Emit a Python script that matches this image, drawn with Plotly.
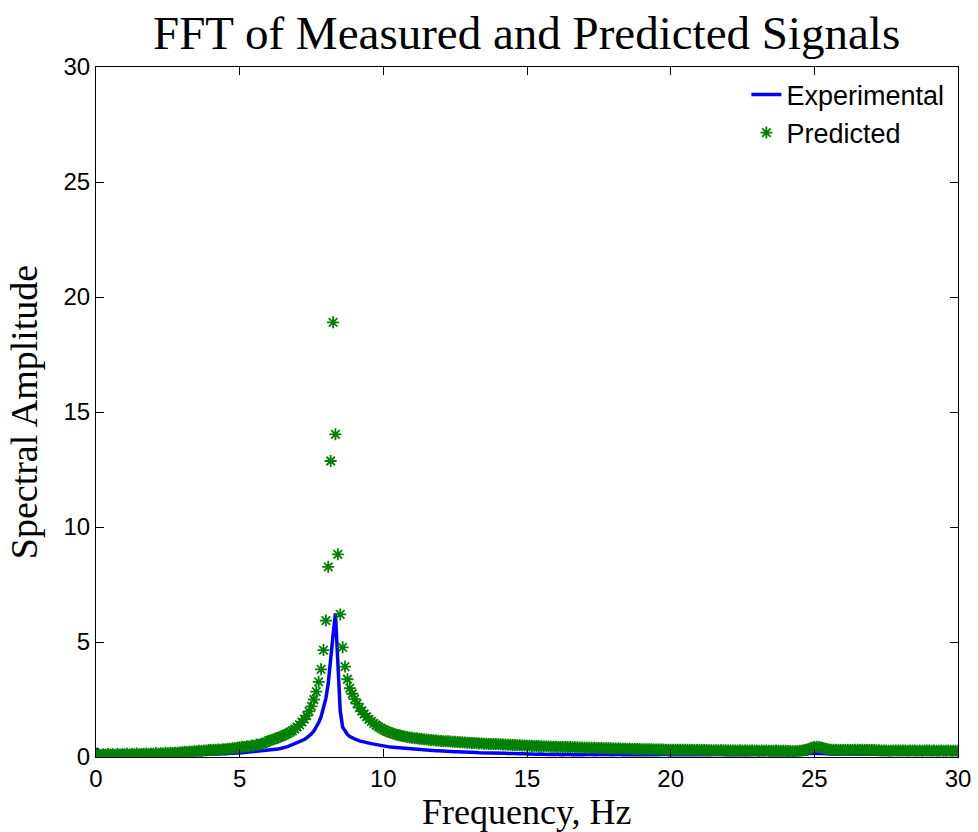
import numpy as np
import plotly.graph_objects as go

# Frequency grid: one sample every 1/12 Hz from 0 to 30 Hz
FREQ_STEP = 1.0 / 12.0

# Predicted spectral amplitude, one row per Hz (12 samples each), final sample at 30 Hz
predicted = [
    0.10, 0.13, 0.09, 0.12, 0.10, 0.13, 0.11, 0.12, 0.10, 0.13, 0.11, 0.12,
    0.12, 0.14, 0.11, 0.13, 0.12, 0.15, 0.12, 0.14, 0.13, 0.15, 0.13, 0.14,
    0.15, 0.17, 0.14, 0.16, 0.15, 0.18, 0.16, 0.18, 0.17, 0.19, 0.18, 0.20,
    0.21, 0.23, 0.22, 0.24, 0.23, 0.25, 0.25, 0.27, 0.26, 0.28, 0.28, 0.30,
    0.30, 0.32, 0.31, 0.33, 0.32, 0.34, 0.34, 0.36, 0.36, 0.38, 0.38, 0.40,
    0.42, 0.45, 0.43, 0.47, 0.46, 0.50, 0.49, 0.54, 0.53, 0.58, 0.58, 0.64,
    0.70, 0.73, 0.76, 0.80, 0.84, 0.88, 0.92, 0.97, 1.02, 1.08, 1.14, 1.21,
    1.30, 1.40, 1.52, 1.65, 1.80, 1.98, 2.20, 2.50, 2.84, 3.27, 3.81, 4.65,
    5.93, 8.27, 12.87, 18.90, 14.03, 8.81, 6.20, 4.77, 3.93, 3.38, 2.99, 2.75,
    2.52, 2.32, 2.15, 2.00, 1.87, 1.75, 1.64, 1.55, 1.46, 1.38, 1.31, 1.25,
    1.19, 1.14, 1.10, 1.05, 1.02, 0.99, 0.96, 0.93, 0.91, 0.89, 0.87, 0.85,
    0.84, 0.82, 0.81, 0.79, 0.78, 0.77, 0.76, 0.75, 0.74, 0.73, 0.72, 0.71,
    0.70, 0.69, 0.69, 0.68, 0.67, 0.66, 0.66, 0.65, 0.64, 0.64, 0.63, 0.62,
    0.62, 0.61, 0.61, 0.60, 0.59, 0.59, 0.58, 0.58, 0.57, 0.57, 0.56, 0.56,
    0.55, 0.55, 0.54, 0.54, 0.53, 0.53, 0.52, 0.52, 0.51, 0.51, 0.50, 0.50,
    0.49, 0.49, 0.48, 0.48, 0.48, 0.47, 0.47, 0.46, 0.46, 0.46, 0.45, 0.45,
    0.45, 0.44, 0.44, 0.44, 0.43, 0.43, 0.43, 0.42, 0.42, 0.42, 0.41, 0.41,
    0.41, 0.40, 0.40, 0.40, 0.40, 0.39, 0.39, 0.39, 0.38, 0.38, 0.38, 0.38,
    0.37, 0.37, 0.37, 0.37, 0.36, 0.36, 0.36, 0.36, 0.35, 0.35, 0.35, 0.35,
    0.34, 0.34, 0.34, 0.34, 0.34, 0.33, 0.33, 0.33, 0.33, 0.33, 0.32, 0.32,
    0.32, 0.32, 0.32, 0.31, 0.31, 0.31, 0.31, 0.31, 0.31, 0.30, 0.30, 0.30,
    0.30, 0.30, 0.30, 0.30, 0.29, 0.29, 0.29, 0.29, 0.29, 0.29, 0.29, 0.29,
    0.28, 0.29, 0.28, 0.28, 0.28, 0.29, 0.28, 0.28, 0.28, 0.28, 0.28, 0.28,
    0.28, 0.27, 0.28, 0.27, 0.28, 0.27, 0.27, 0.27, 0.28, 0.27, 0.27, 0.27,
    0.27, 0.26, 0.26, 0.25, 0.25, 0.26, 0.27, 0.28, 0.30, 0.33, 0.37, 0.40,
    0.43, 0.45, 0.44, 0.41, 0.38, 0.35, 0.33, 0.32, 0.31, 0.31, 0.30, 0.30,
    0.30, 0.30, 0.31, 0.30, 0.30, 0.31, 0.31, 0.30, 0.31, 0.31, 0.30, 0.30,
    0.30, 0.30, 0.29, 0.29, 0.28, 0.28, 0.28, 0.27, 0.27, 0.28, 0.28, 0.28,
    0.28, 0.28, 0.28, 0.27, 0.28, 0.28, 0.28, 0.27, 0.28, 0.27, 0.28, 0.28,
    0.28, 0.27, 0.28, 0.27, 0.27, 0.28, 0.27, 0.27, 0.28, 0.27, 0.27, 0.27,
    0.27,
]

# Experimental (measured) spectral amplitude on the same grid
experimental = [
    0.38, 0.22, 0.14, 0.11, 0.10, 0.12, 0.09, 0.10, 0.11, 0.09, 0.10, 0.11,
    0.10, 0.09, 0.11, 0.10, 0.08, 0.10, 0.11, 0.09, 0.10, 0.08, 0.10, 0.09,
    0.09, 0.10, 0.08, 0.09, 0.11, 0.10, 0.09, 0.10, 0.08, 0.09, 0.10, 0.09,
    0.10, 0.09, 0.11, 0.10, 0.09, 0.10, 0.11, 0.10, 0.11, 0.12, 0.11, 0.12,
    0.12, 0.13, 0.12, 0.13, 0.14, 0.13, 0.14, 0.15, 0.15, 0.16, 0.16, 0.17,
    0.18, 0.18, 0.19, 0.20, 0.20, 0.21, 0.22, 0.23, 0.24, 0.25, 0.26, 0.28,
    0.30, 0.31, 0.32, 0.34, 0.35, 0.37, 0.39, 0.42, 0.45, 0.49, 0.53, 0.57,
    0.61, 0.65, 0.70, 0.76, 0.83, 0.91, 1.01, 1.13, 1.30, 1.50, 1.75, 2.10,
    2.55, 3.20, 4.10, 5.30, 6.25, 4.00, 2.00, 1.30, 1.10, 0.98, 0.89, 0.83,
    0.78, 0.74, 0.70, 0.67, 0.64, 0.62, 0.60, 0.58, 0.56, 0.54, 0.52, 0.50,
    0.46, 0.45, 0.44, 0.43, 0.42, 0.41, 0.40, 0.39, 0.38, 0.37, 0.36, 0.35,
    0.34, 0.33, 0.32, 0.31, 0.31, 0.30, 0.29, 0.29, 0.28, 0.28, 0.27, 0.27,
    0.26, 0.26, 0.25, 0.25, 0.24, 0.24, 0.23, 0.23, 0.23, 0.22, 0.22, 0.21,
    0.21, 0.21, 0.20, 0.20, 0.19, 0.19, 0.19, 0.18, 0.18, 0.18, 0.17, 0.17,
    0.17, 0.16, 0.16, 0.16, 0.15, 0.16, 0.15, 0.15, 0.14, 0.15, 0.14, 0.14,
    0.13, 0.14, 0.13, 0.12, 0.13, 0.12, 0.13, 0.12, 0.11, 0.12, 0.11, 0.12,
    0.11, 0.12, 0.11, 0.10, 0.11, 0.12, 0.11, 0.10, 0.11, 0.12, 0.11, 0.10,
    0.11, 0.10, 0.11, 0.12, 0.10, 0.11, 0.10, 0.11, 0.12, 0.11, 0.10, 0.11,
    0.10, 0.11, 0.12, 0.11, 0.10, 0.11, 0.10, 0.12, 0.11, 0.10, 0.11, 0.10,
    0.11, 0.10, 0.11, 0.10, 0.12, 0.11, 0.10, 0.11, 0.10, 0.11, 0.12, 0.10,
    0.11, 0.10, 0.11, 0.10, 0.11, 0.12, 0.11, 0.10, 0.11, 0.10, 0.11, 0.10,
    0.11, 0.12, 0.10, 0.11, 0.10, 0.11, 0.10, 0.11, 0.12, 0.11, 0.10, 0.11,
    0.10, 0.11, 0.10, 0.12, 0.11, 0.10, 0.11, 0.10, 0.11, 0.10, 0.11, 0.12,
    0.11, 0.10, 0.11, 0.10, 0.11, 0.12, 0.10, 0.11, 0.10, 0.11, 0.10, 0.11,
    0.11, 0.10, 0.11, 0.10, 0.10, 0.11, 0.10, 0.11, 0.12, 0.13, 0.15, 0.16,
    0.17, 0.17, 0.16, 0.15, 0.14, 0.14, 0.13, 0.13, 0.12, 0.13, 0.12, 0.12,
    0.12, 0.13, 0.12, 0.13, 0.12, 0.12, 0.13, 0.12, 0.12, 0.13, 0.12, 0.12,
    0.12, 0.11, 0.12, 0.11, 0.12, 0.11, 0.12, 0.11, 0.12, 0.11, 0.12, 0.11,
    0.11, 0.12, 0.11, 0.12, 0.11, 0.12, 0.11, 0.12, 0.11, 0.12, 0.11, 0.12,
    0.11, 0.12, 0.11, 0.12, 0.11, 0.12, 0.11, 0.12, 0.11, 0.12, 0.11, 0.12,
    0.12,
]

freqs = np.arange(len(predicted)) * FREQ_STEP

tick_vals = [0, 5, 10, 15, 20, 25, 30]
tick_text = ["0", "5", "10", "15", "20", "25", "30"]

SERIF = "Liberation Serif, Times New Roman, serif"
SANS = "Liberation Sans, Arial, sans-serif"

fig = go.Figure()
fig.add_trace(go.Scatter(
    x=freqs, y=experimental, mode="lines", name="Experimental",
    line=dict(color="#0000FF", width=3.5),
))
fig.add_trace(go.Scatter(
    x=freqs, y=predicted, mode="markers", name="Predicted",
    marker=dict(symbol="asterisk-open", size=10, color="#008000",
                line=dict(color="#008000", width=1.8)),
))

axis_common = dict(
    range=[0, 30], tickvals=tick_vals, ticktext=tick_text,
    ticks="inside", ticklen=8, tickwidth=1, tickcolor="black",
    showline=True, linecolor="black", linewidth=1, mirror="ticks",
    showgrid=False, zeroline=False, automargin=False,
    tickfont=dict(family=SANS, size=24, color="black"),
)

fig.update_layout(
    width=978, height=832,
    margin=dict(l=96, r=20, t=67, b=75),
    paper_bgcolor="white", plot_bgcolor="white",
    title=dict(text="FFT of Measured and Predicted Signals",
               font=dict(family=SERIF, size=47, color="black"),
               x=0.5385, xanchor="center", y=1 - 33 / 832, yanchor="middle"),
    xaxis=dict(axis_common),
    yaxis=dict(axis_common,
               title=dict(text="Spectral Amplitude", standoff=14,
                          font=dict(family=SERIF, size=38, color="black"))),
    legend=dict(x=0.99, y=0.995, xanchor="right", yanchor="top",
                bgcolor="rgba(0,0,0,0)", borderwidth=0,
                font=dict(family=SANS, size=27, color="black")),
    annotations=[dict(text="Frequency, Hz", xref="paper", yref="paper",
                      x=0.5, y=-(812 - 757) / 690.0, xanchor="center", yanchor="middle",
                      showarrow=False, font=dict(family=SERIF, size=36, color="black"))],
    showlegend=True,
)

fig.write_html("out.html")
